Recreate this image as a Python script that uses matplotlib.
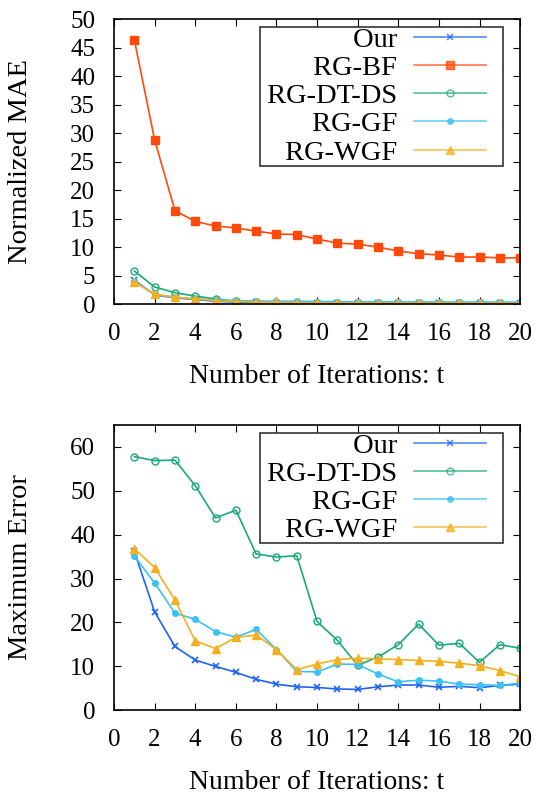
import numpy as np
import matplotlib
matplotlib.use("Agg")
import matplotlib.pyplot as plt
from matplotlib.legend_handler import HandlerLine2D

plt.rcParams["font.family"] = ["Liberation Serif", "DejaVu Serif"]
plt.rcParams["mathtext.fontset"] = "stix"

iters = list(range(1, 21))

# Normalized MAE (top panel)
mae_our = [4.2, 1.6, 1.1, 0.8, 0.5, 0.35, 0.3, 0.25, 0.2, 0.2,
           0.18, 0.17, 0.16, 0.15, 0.15, 0.14, 0.14, 0.13, 0.13, 0.13]
mae_bf = [46.4, 28.8, 16.4, 14.5, 13.7, 13.35, 12.8, 12.3, 12.2, 11.4,
          10.7, 10.5, 10.0, 9.3, 8.85, 8.6, 8.25, 8.25, 8.1, 8.1]
mae_dtds = [5.8, 3.0, 2.0, 1.4, 0.9, 0.5, 0.35, 0.25, 0.2, 0.18,
            0.16, 0.15, 0.14, 0.13, 0.12, 0.12, 0.11, 0.11, 0.1, 0.1]
mae_gf = [4.0, 1.7, 1.2, 0.9, 0.7, 0.6, 0.55, 0.5, 0.5, 0.45,
          0.42, 0.4, 0.4, 0.38, 0.38, 0.37, 0.36, 0.36, 0.35, 0.35]
mae_wgf = [3.9, 1.7, 1.2, 0.9, 0.6, 0.45, 0.35, 0.3, 0.25, 0.22,
           0.2, 0.2, 0.19, 0.18, 0.18, 0.17, 0.17, 0.16, 0.16, 0.16]

# Maximum error (bottom panel)
max_our = [36.2, 22.4, 14.5, 11.4, 9.95, 8.6, 7.0, 5.9, 5.3, 5.15,
           4.8, 4.7, 5.3, 5.7, 5.7, 5.2, 5.4, 5.1, 5.6, 5.9]
max_dtds = [57.8, 56.9, 57.0, 51.2, 43.8, 45.6, 35.6, 34.9, 35.2, 20.2,
            15.9, 10.2, 12.1, 14.9, 19.6, 14.8, 15.2, 10.9, 14.9, 14.1]
max_gf = [35.1, 29.0, 22.1, 20.7, 17.9, 16.6, 18.4, 13.8, 8.8, 8.7,
          10.5, 10.4, 8.2, 6.45, 6.8, 6.6, 5.9, 5.8, 5.6, 6.15]
max_wgf = [36.8, 32.5, 25.1, 15.8, 14.0, 16.6, 17.1, 13.8, 9.2, 10.5,
           11.5, 11.8, 11.7, 11.5, 11.3, 11.1, 10.7, 10.1, 9.0, 7.6]

styles = {
    "Our": dict(color="#1f64f0", marker="x", ms=5, mew=1.2),
    "RG-BF": dict(color="#ff4a0a", marker="s", ms=6),
    "RG-DT-DS": dict(color="#1aaa78", marker="o", ms=5, mfc="none", mew=1.0),
    "RG-GF": dict(color="#3cc0f5", marker="o", ms=4),
    "RG-WGF": dict(color="#f5b01e", marker="^", ms=6),
}


class ShortLine(HandlerLine2D):
    # leave some blank room right of the legend sample line
    def create_artists(self, legend, orig_handle, xdescent, ydescent,
                       width, height, fontsize, trans):
        return super().create_artists(legend, orig_handle, xdescent, ydescent,
                                      width - 12.2, height, fontsize, trans)


tick_fs = 18
leg_fs = 20.5

fig = plt.figure(figsize=(5.39, 7.96), dpi=100)
ax1 = fig.add_axes([0.2115, 0.618, 0.7535, 0.358])
ax2 = fig.add_axes([0.2115, 0.108, 0.7535, 0.358])

top_series = [("Our", mae_our), ("RG-BF", mae_bf), ("RG-DT-DS", mae_dtds),
              ("RG-GF", mae_gf), ("RG-WGF", mae_wgf)]
bot_series = [("Our", max_our), ("RG-DT-DS", max_dtds),
              ("RG-GF", max_gf), ("RG-WGF", max_wgf)]

for ax, series in [(ax1, top_series), (ax2, bot_series)]:
    for name, vals in series:
        st = styles[name]
        # leading space gives the text some room from the legend frame
        ax.plot(iters, vals, label=" " + name, lw=1.2, **st)
    ax.set_xlim(0, 20)
    ax.set_xticks(range(0, 21, 2))
    ax.tick_params(direction="in", top=True, right=True, labelsize=tick_fs,
                   length=5, width=0.8, pad=13.5)
    ax.set_xlabel("Number of Iterations: t", fontsize=20, labelpad=14)
    for sp in ax.spines.values():
        sp.set_linewidth(1.2)
    leg = ax.legend(loc="upper right", fontsize=leg_fs, markerfirst=False,
                    frameon=True, fancybox=False, edgecolor="black",
                    handlelength=3.13, handletextpad=0.6, labelspacing=0.08,
                    borderpad=0.0, borderaxespad=0,
                    bbox_to_anchor=(0.958, 0.973),
                    handler_map={plt.Line2D: ShortLine()})
    leg.get_frame().set_linewidth(1.2)
    for line in leg.get_lines():
        line.set_alpha(0.75)

ax1.set_ylim(0, 50)
ax1.set_yticks(range(0, 51, 5))
ax1.set_ylabel("Normalized MAE", fontsize=20.5, labelpad=27)

ax2.set_ylim(0, 65)
ax2.set_yticks(range(0, 61, 10))
ax2.set_ylabel("Maximum Error", fontsize=20.5, labelpad=27)

fig.savefig("out.png", dpi=100)
